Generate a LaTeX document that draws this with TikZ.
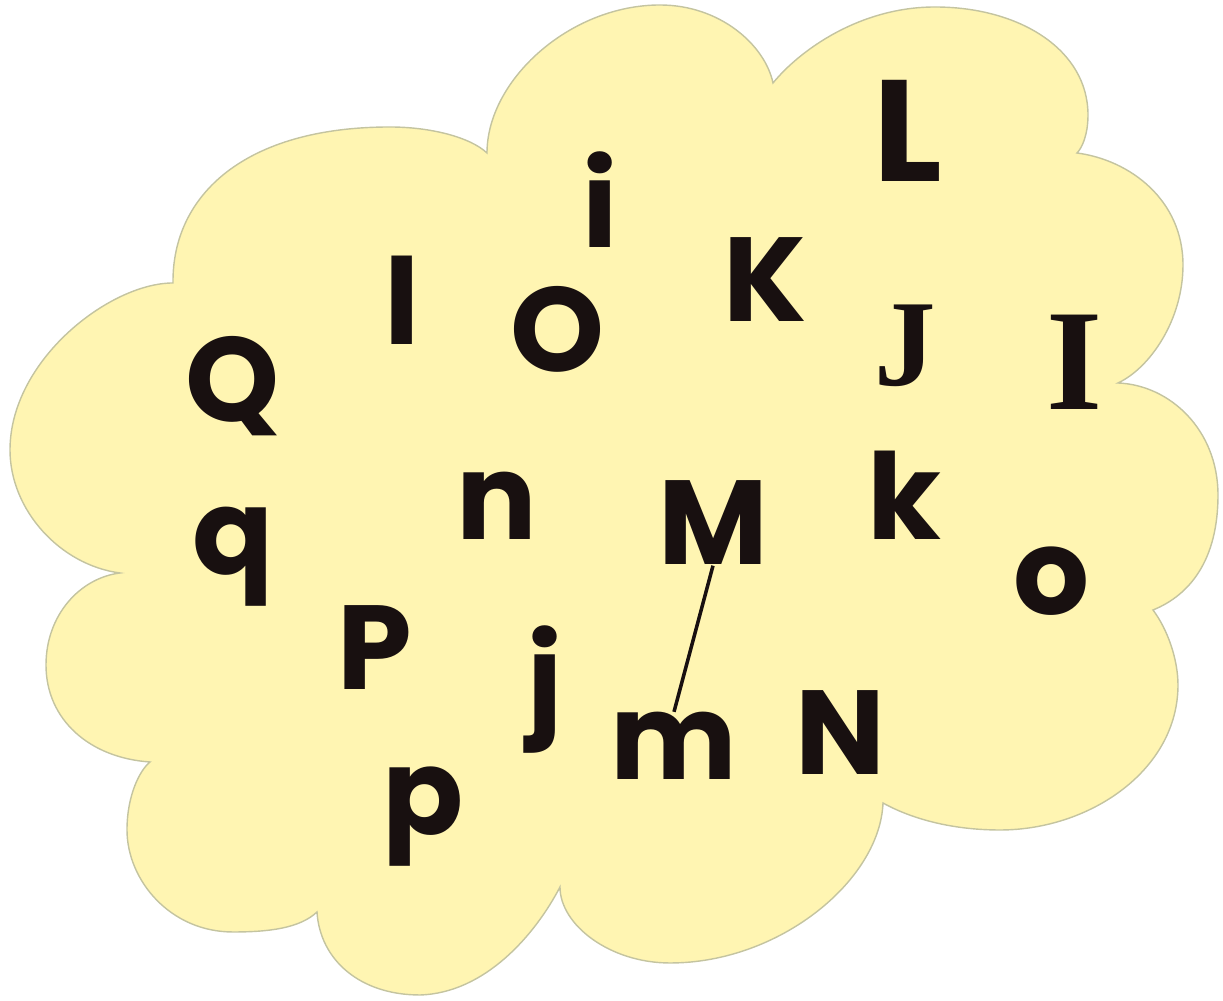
\documentclass[tikz,border=0pt]{standalone}
\usepackage{fontspec}
\newfontfamily\geo{Poppins}
\newfontfamily\tms{Liberation Serif}
\definecolor{cloudfill}{RGB}{255,245,178}
\definecolor{cloudline}{RGB}{196,196,160}
\definecolor{ink}{RGB}{24,16,16}

\begin{document}
\begin{tikzpicture}[x=0.01cm,y=-0.01cm,
  letter/.style={inner sep=0pt,anchor=base,text=ink,font=\geo\bfseries\fontsize{34}{34}\selectfont},
  bigletter/.style={letter,font=\geo\bfseries\fontsize{41}{41}\selectfont},
  serifletter/.style={inner sep=0pt,anchor=base,text=ink,font=\tms\bfseries\fontsize{#1}{#1}\selectfont}]
\useasboundingbox (0,0) rectangle (1223,1001);
% cloud outline, pixel coords (y down), one bump after the other
\draw[cloudline,fill=cloudfill,line width=0.4pt]
  (173,283) .. controls (172,195) and (245,127) .. (390,127)       % bump over Q and l
  .. controls (430,127) and (470,137) .. (487,153)
  .. controls (487,80) and (570,5) .. (660,5)                      % bump over i
  .. controls (720,5) and (765,45) .. (773,83)
  .. controls (800,50) and (860,7) .. (935,7)                      % bump over L
  .. controls (1020,7) and (1088,50) .. (1088,115)
  .. controls (1088,135) and (1082,148) .. (1077,153)
  .. controls (1130,160) and (1183,200) .. (1183,265)              % right, upper
  .. controls (1183,320) and (1150,368) .. (1118,383)
  .. controls (1170,385) and (1218,430) .. (1218,495)              % right, middle
  .. controls (1218,560) and (1190,595) .. (1153,610)
  .. controls (1168,630) and (1178,660) .. (1178,685)              % right, lower
  .. controls (1178,770) and (1090,830) .. (1000,830)
  .. controls (950,830) and (910,818) .. (883,803)
  .. controls (880,880) and (780,963) .. (670,963)                 % bottom, under m
  .. controls (610,963) and (560,925) .. (560,887)
  .. controls (535,935) and (485,993) .. (420,995)                 % bottom, under p
  .. controls (360,995) and (320,960) .. (317,912)
  .. controls (300,928) and (270,932) .. (233,932)                 % bottom left
  .. controls (170,932) and (127,880) .. (127,830)
  .. controls (127,795) and (140,770) .. (150,762)
  .. controls (90,758) and (46,720) .. (46,665)                    % left, lower
  .. controls (46,615) and (80,578) .. (120,573)
  .. controls (60,565) and (10,510) .. (10,450)                    % left, upper
  .. controls (10,360) and (110,283) .. cycle;
% letters, placed on their baselines
\node[letter] (i) at (600,248) {i};
\node[bigletter] (L) at (908,182) {L};
\node[letter] (K) at (765,322) {K};
\node[letter] (l) at (402,345) {l};
\node[letter] (O) at (557,372) {O};
\node[letter] (Q) at (233,422) {Q};
\node[serifletter=35] (J) at (905,386) {J};
\node[serifletter=41] (I) at (1075,410) {I};
\node[letter] (n) at (497,540) {n};
\node[letter] (M) at (713,565) {M};
\node[letter] (k) at (904,540) {k};
\node[letter] (q) at (233,575) {q};
\node[letter] (o) at (1052,615) {o};
\node[letter] (P) at (375,690) {P};
\node[letter] (j) at (545,722) {j};
\node[letter] (m) at (674,780) {m};
\node[letter] (N) at (840,775) {N};
\node[letter] (p) at (423,835) {p};
\draw[ink,line width=1pt] (M.south) -- (m.north); % the one link
\end{tikzpicture}
\end{document}
